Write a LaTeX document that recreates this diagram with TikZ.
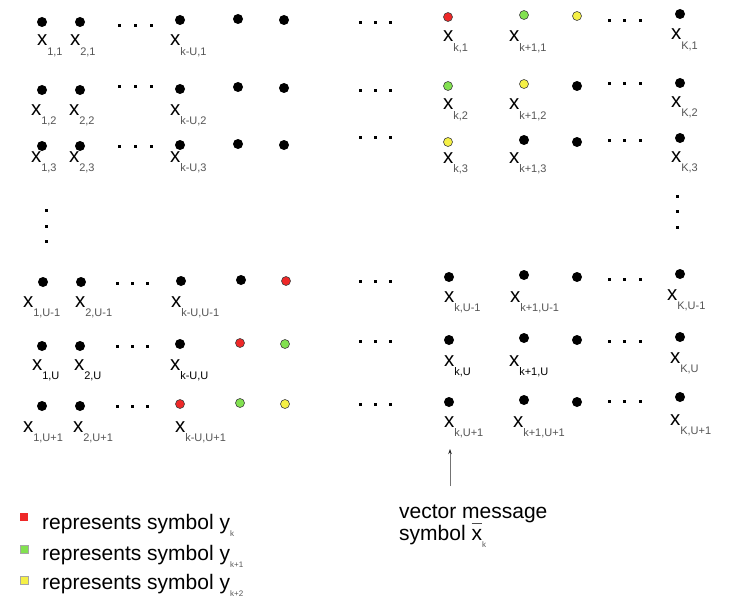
\documentclass[tikz,border=0pt]{standalone}
\usepackage{fontspec}
\setmainfont{Liberation Sans}
\usetikzlibrary{arrows.meta}
\definecolor{dred}{RGB}{238,40,40}
\definecolor{dgreen}{RGB}{130,225,80}
\definecolor{dyellow}{RGB}{245,240,70}
\definecolor{subgray}{RGB}{85,85,85}
\newcommand\xlab[1]{\fontsize{20.5}{20}\selectfont x\raisebox{-9.5pt}{\fontsize{11}{11}\selectfont\textcolor{subgray}{#1}}}
\newcommand\ysub[1]{\raisebox{-7pt}{\fontsize{8}{8}\selectfont\textcolor{subgray}{#1}}}
\begin{document}
\begin{tikzpicture}[x=1pt,y=-1pt,
  bdot/.style={circle,fill=black,inner sep=0,minimum size=10pt},
  rdot/.style={circle,fill=dred,draw=black!75,line width=0.6pt,inner sep=0,minimum size=9pt},
  gdot/.style={circle,fill=dgreen,draw=black!75,line width=0.6pt,inner sep=0,minimum size=9pt},
  ydot/.style={circle,fill=dyellow,draw=black!75,line width=0.6pt,inner sep=0,minimum size=9pt},
  edot/.style={rectangle,fill=black,inner sep=0,minimum size=3pt},
  lab/.style={anchor=base west,inner sep=0,outer sep=0},
  legsq/.style={rectangle,inner sep=0,minimum size=8.5pt,draw=black!35,line width=0.4pt},
  txt/.style={anchor=base west,inner sep=0,font=\fontsize{21}{21}\selectfont}]
\fill[white] (0,0) rectangle (743,599);
\useasboundingbox (0,0) rectangle (743,599);
% ---- grid dots
\foreach \n/\x/\y/\s in {
  a1/42/22/bdot, b1/80/22/bdot, c1/180/20/bdot, d1/238/19/bdot, e1/284/20/bdot, f1/448/17/rdot, g1/524/15/gdot, h1/577/16/ydot, i1/680/14/bdot,
  a2/42/90/bdot, b2/80/90/bdot, c2/180/89/bdot, d2/238/87/bdot, e2/284/88/bdot, f2/448/86/gdot, g2/524/84/ydot, h2/577/86/bdot, i2/680/83/bdot,
  a3/42/146/bdot, b3/80/146/bdot, c3/180/145/bdot, d3/238/144/bdot, e3/284/145/bdot, f3/448/142/ydot, g3/524/140/bdot, h3/577/142/bdot, i3/680/138/bdot,
  a4/43/282/bdot, b4/81/282/bdot, c4/181/281/bdot, d4/241/280/bdot, e4/286/281/rdot, f4/449/277/bdot, g4/524/275/bdot, h4/577/277/bdot, i4/680/274/bdot,
  a5/42/346/bdot, b5/80/346/bdot, c5/180/344/bdot, d5/240/343/rdot, e5/285/344/gdot, f5/449/340/bdot, g5/524/338/bdot, h5/577/340/bdot, i5/680/337/bdot,
  a6/42/406/bdot, b6/80/406/bdot, c6/180/404/rdot, d6/240/403/gdot, e6/285/404/ydot, f6/449/402/bdot, g6/524/400/bdot, h6/577/402/bdot, i6/680/397/bdot}
  \node[\s] (\n) at (\x,\y) {};
% ---- ellipsis dots
\foreach \r/\y/\ym/\yr in {1/26/23/21, 2/87/91/84, 3/146/137/140} {
  \foreach \k/\xl/\xm/\xr in {1/119/360/609, 2/135/375/624, 3/151/390/640} {
    \node[edot] (el\r\k) at (\xl,\y) {};
    \node[edot] (em\r\k) at (\xm,\ym) {};
    \node[edot] (er\r\k) at (\xr,\yr) {};
  }
}
\foreach \r/\y/\ym/\yr in {4/283/281/279, 5/346/341/341, 6/406/404/401} {
  \foreach \k/\xl/\xm/\xr in {1/117/360/609, 2/132/375/624, 3/147/390/640} {
    \node[edot] (el\r\k) at (\xl,\y) {};
    \node[edot] (em\r\k) at (\xm,\ym) {};
    \node[edot] (er\r\k) at (\xr,\yr) {};
  }
}
\foreach \k/\y/\yy in {1/210/196, 2/226/211, 3/241/227} {
  \node[edot] (vl\k) at (46,\y) {};
  \node[edot] (vr\k) at (677,\yy) {};
}
% ---- labels row 1
\node[lab] (la1) at (37,46) {\xlab{1,1}};
\node[lab] (lb1) at (70,46) {\xlab{2,1}};
\node[lab] (lc1) at (170,46) {\xlab{k-U,1}};
\node[lab] (lf1) at (443,42) {\xlab{k,1}};
\node[lab] (lg1) at (509,42) {\xlab{k+1,1}};
\node[lab] (li1) at (671,40) {\xlab{K,1}};
% row 2
\node[lab] (la2) at (31,115) {\xlab{1,2}};
\node[lab] (lb2) at (69,115) {\xlab{2,2}};
\node[lab] (lc2) at (170,115) {\xlab{k-U,2}};
\node[lab] (lf2) at (443,110) {\xlab{k,2}};
\node[lab] (lg2) at (509,110) {\xlab{k+1,2}};
\node[lab] (li2) at (671,107) {\xlab{K,2}};
% row 3
\node[lab] (la3) at (31,162) {\xlab{1,3}};
\node[lab] (lb3) at (69,162) {\xlab{2,3}};
\node[lab] (lc3) at (170,162) {\xlab{k-U,3}};
\node[lab] (lf3) at (443,163) {\xlab{k,3}};
\node[lab] (lg3) at (509,163) {\xlab{k+1,3}};
\node[lab] (li3) at (671,162) {\xlab{K,3}};
% row U-1
\node[lab] (la4) at (23,307) {\xlab{1,U-1}};
\node[lab] (lb4) at (75,307) {\xlab{2,U-1}};
\node[lab] (lc4) at (171,307) {\xlab{k-U,U-1}};
\node[lab] (lf4) at (444,302) {\xlab{k,U-1}};
\node[lab] (lg4) at (510,302) {\xlab{k+1,U-1}};
\node[lab] (li4) at (667,300) {\xlab{K,U-1}};
% row U
\node[lab] (la5) at (32,370) {\xlab{\textcolor{black}{1,U}}};
\node[lab] (lb5) at (74,370) {\xlab{\textcolor{black}{2,U}}};
\node[lab] (lc5) at (170,370) {\xlab{\textcolor{black}{k-U,U}}};
\node[lab] (lf5) at (444,366) {\xlab{\textcolor{black}{k,U}}};
\node[lab] (lg5) at (509,366) {\xlab{\textcolor{black}{k+1,U}}};
\node[lab] (li5) at (670,363) {\xlab{K,U}};
% row U+1
\node[lab] (la6) at (23,432) {\xlab{1,U+1}};
\node[lab] (lb6) at (73,432) {\xlab{2,U+1}};
\node[lab] (lc6) at (175,432) {\xlab{k-U,U+1}};
\node[lab] (lf6) at (444,427) {\xlab{k,U+1}};
\node[lab] (lg6) at (513,427) {\xlab{k+1,U+1}};
\node[lab] (li6) at (670,425) {\xlab{K,U+1}};
% ---- arrow and vector message
\coordinate (arrS) at (450,486);
\coordinate (arrE) at (450,449);
\draw[black!55,line width=0.7pt,-{Stealth[length=5pt,width=3.5pt,color=black!85]}] (arrS) -- (arrE);
\node[txt] (vm1) at (399,518) {vector message};
\node[txt] (vm2) at (399,540) {symbol \makebox[0pt][l]{\raisebox{16.5pt}{\textcolor{black!70}{\rule{10pt}{0.7pt}}}}x\ysub{k}};
% ---- legend
\node[legsq,fill=dred,draw=none] (sq1) at (24,517) {};
\node[legsq,fill=dgreen] (sq2) at (24,549) {};
\node[legsq,fill=dyellow] (sq3) at (24,580) {};
\node[txt] (lt1) at (42,529) {represents symbol y\ysub{k}};
\node[txt] (lt2) at (42,560) {represents symbol y\ysub{k+1}};
\node[txt] (lt3) at (42,589) {represents symbol y\ysub{k+2}};
\end{tikzpicture}
\end{document}
